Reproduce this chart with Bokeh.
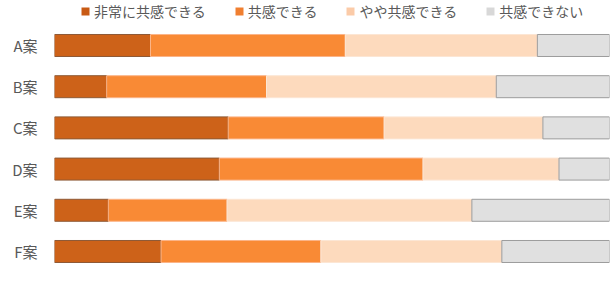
from bokeh.plotting import figure
from bokeh.models import Legend, LegendItem, FixedTicker, ColumnDataSource, Range1d
from bokeh.embed import file_html
from bokeh.resources import INLINE

categories = ["A案", "B案", "C案", "D案", "E案", "F案"]
series_names = ["非常に共感できる", "共感できる", "やや共感できる", "共感できない"]
very = [17.3, 9.4, 31.3, 29.7, 9.7, 19.2]
agree = [35.1, 28.8, 28.1, 36.7, 21.4, 28.8]
somewhat = [34.6, 41.4, 28.6, 24.5, 44.1, 32.6]
disagree = [13.0, 20.4, 12.0, 9.1, 24.8, 19.4]

fills = ["#CD6219", "#F98A35", "#FDDABD", "#E0E0E0"]
lines = ["#8E5A36", "#FBB488", "#FCE6D4", "#9C9C9C"]
legend_fills = ["#C85A14", "#F07F30", "#FBCBA8", "#D8D8D8"]

n = len(categories)
ypos = [n - i for i in range(n)]  # A at top

p = figure(width=610, height=283, output_backend="svg", toolbar_location=None,
           x_axis_location=None, x_range=Range1d(0, 100),
           y_range=Range1d(0.223, 7.092),
           min_border_left=54, min_border_right=1, min_border_top=0, min_border_bottom=0)
p.outline_line_color = None
p.xgrid.visible = False
p.ygrid.visible = False
p.background_fill_color = "white"
p.border_fill_color = "white"

values = [very, agree, somewhat, disagree]
left = [0.0] * n
for k, vals in enumerate(values):
    right = [l + v for l, v in zip(left, vals)]
    src = ColumnDataSource(dict(y=ypos, left=left, right=right))
    p.hbar(y="y", left="left", right="right", height=0.534, source=src,
           fill_color=fills[k], line_color=lines[k], line_width=1)
    left = right

# legend proxies (outside the visible range)
proxies = []
for k in range(4):
    pr = p.rect(x=[-50], y=[-50], width=1, height=1, fill_color=legend_fills[k], line_color=None)
    proxies.append(pr)

legend = Legend(items=[LegendItem(label=series_names[k], renderers=[proxies[k]]) for k in range(4)],
                orientation="horizontal", location=(26, 262),
                glyph_width=10, glyph_height=10, label_standoff=4, spacing=28,
                padding=0, margin=0, border_line_color=None, background_fill_alpha=0,
                label_text_font="Noto Sans CJK JP", label_text_font_size="14px",
                label_text_color="#595959", label_height=14)
p.add_layout(legend, "center")

p.yaxis.ticker = FixedTicker(ticks=ypos)
p.yaxis.major_label_overrides = {y: c for y, c in zip(ypos, categories)}
p.yaxis.axis_line_color = None
p.yaxis.major_tick_line_color = None
p.yaxis.minor_tick_line_color = None
p.yaxis.major_label_standoff = 11
p.yaxis.major_label_text_font = "Noto Sans CJK JP"
p.yaxis.major_label_text_font_size = "15px"
p.yaxis.major_label_text_color = "#595959"

open("out.html", "w").write(file_html(p, INLINE))
